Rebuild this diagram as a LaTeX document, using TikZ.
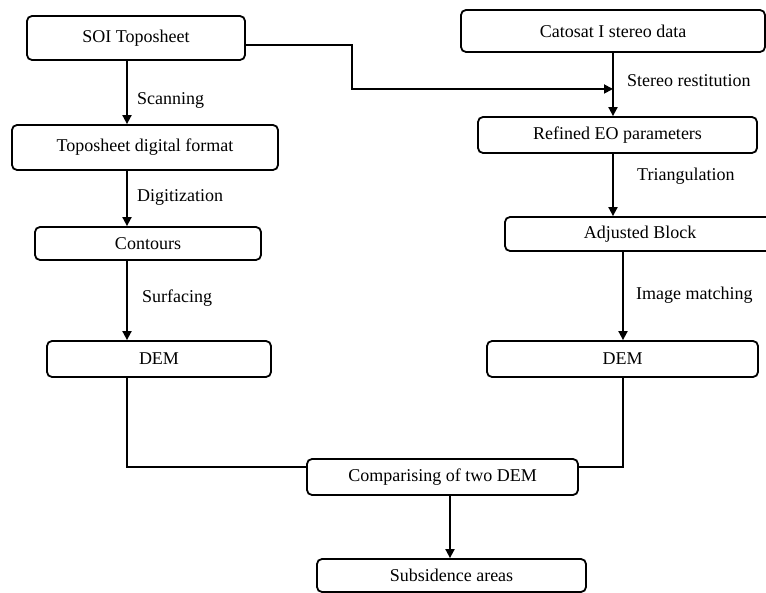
\documentclass[tikz,border=0pt]{standalone}
\usepackage{fontspec}
\setmainfont{Liberation Serif}
\usetikzlibrary{arrows.meta}
\tikzset{
  box/.style={draw, rounded corners=5pt, line width=1.8pt, inner sep=0pt,
    font=\fontsize{18}{20}\selectfont},
  lbl/.style={anchor=west, inner sep=0pt, font=\fontsize{18}{20}\selectfont},
  arr/.style={line width=1.8pt, -{Triangle[length=9pt,width=9pt]}},
  ln/.style={line width=1.8pt},
}
\begin{document}
\begin{tikzpicture}[x=1pt,y=-1pt]
  \useasboundingbox (0,0) rectangle (766,593);
  % left column
  \node[box, minimum width=218pt, minimum height=44pt] (soi) at (136,38) {SOI Toposheet};
  \node[box, minimum width=266pt, minimum height=45pt] (topo) at (145,147.5) {Toposheet digital format};
  \node[box, minimum width=226pt, minimum height=33pt] (cont) at (148,243.5) {Contours};
  \node[box, minimum width=224pt, minimum height=36pt] (demL) at (159,359) {DEM};
  % right column
  \node[box, minimum width=304pt, minimum height=42pt] (cato) at (613,31) {Catosat I stereo data};
  \node[box, minimum width=279pt, minimum height=36pt] (eo) at (617.5,135) {Refined EO parameters};
  \node[box, minimum width=270pt, minimum height=34pt] (adj) at (640,234) {Adjusted Block};
  \node[box, minimum width=271pt, minimum height=36pt] (demR) at (622.5,359) {DEM};
  % bottom
  \node[box, minimum width=271pt, minimum height=36pt] (comp) at (442.5,477) {Comparising of two DEM};
  \node[box, minimum width=269pt, minimum height=33pt] (subs) at (451.5,575.5) {Subsidence areas};

  \coordinate (lx) at (127,0);
  \coordinate (rx) at (613,0);
  \coordinate (rx2) at (623,0);
  \coordinate (bend) at (352,45);
  \coordinate (joint) at (613,89);
  \coordinate (cl) at (0,467);

  \draw[arr] (soi.south -| lx) -- (topo.north -| lx);
  \draw[arr] (topo.south -| lx) -- (cont.north -| lx);
  \draw[arr] (cont.south -| lx) -- (demL.north -| lx);
  \draw[arr] (cato.south -| rx) -- (eo.north -| rx);
  \draw[arr] (eo.south -| rx) -- (adj.north -| rx);
  \draw[arr] (adj.south -| rx2) -- (demR.north -| rx2);
  \draw[arr] (soi.east |- bend) -- (bend) |- (joint);
  \draw[ln] (demL.south -| lx) |- (comp.west |- cl);
  \draw[ln] (demR.south -| rx2) |- (comp.east |- cl);
  \draw[arr] (comp.south -| 450,0) -- (subs.north -| 450,0);

  \node[lbl] (scan) at (137,100) {Scanning};
  \node[lbl] (digi) at (137,197) {Digitization};
  \node[lbl] (surf) at (142,298) {Surfacing};
  \node[lbl] (stereo) at (627,81) {Stereo restitution};
  \node[lbl] (tri) at (637,176) {Triangulation};
  \node[lbl] (match) at (636,295) {Image matching};
\end{tikzpicture}
\end{document}
